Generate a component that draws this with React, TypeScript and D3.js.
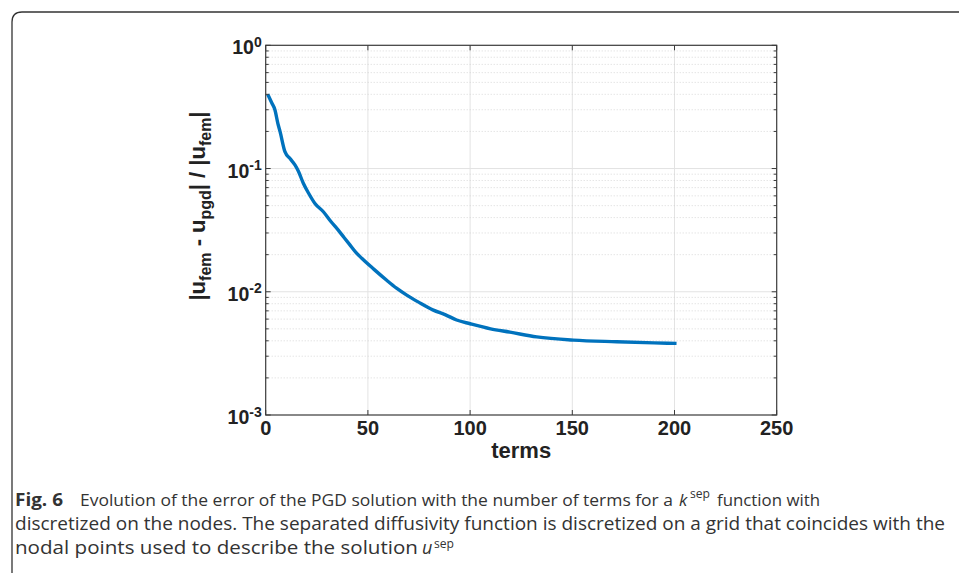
import React from "react";
import * as d3 from "d3";

const terms = [1, 3, 4.5, 6, 7, 9.4, 12, 14.3, 16, 18.4, 21, 24.1, 28.2, 32, 35.5, 38, 41.2, 44, 47, 53, 59.2, 64, 69, 75, 82, 88, 93.4, 100, 110, 119.5, 132.6, 150.5, 171.7, 190, 201];
const errors = [0.40, 0.34, 0.30, 0.23, 0.20, 0.137, 0.12, 0.107, 0.095, 0.076, 0.063, 0.052, 0.0446, 0.037, 0.0316, 0.028, 0.024, 0.021, 0.0187, 0.0152, 0.0124, 0.0107, 0.0094, 0.0082, 0.0071, 0.0065, 0.0059, 0.0055, 0.0050, 0.0047, 0.0043, 0.00405, 0.00393, 0.00385, 0.00381];
const xTicks = [0, 50, 100, 150, 200, 250];
const yTickExps = [0, -1, -2, -3];

const W = 959, H = 573;
const L = 265.7, R = 776.7, T = 45.3, B = 415;

export default function App() {
  const x = d3.scaleLinear().domain([0, 250]).range([L, R]);
  const y = d3.scaleLog().domain([1e-3, 1]).range([B, T]);
  const line = d3.line<number>().x((_, i) => x(terms[i])).y((d) => y(d)).curve(d3.curveMonotoneX);
  const minor: number[] = [];
  for (let e = -3; e < 0; e++) for (let m = 2; m <= 9; m++) minor.push(m * Math.pow(10, e));
  const axisColor = "#3a3a3a";
  const font = "'Liberation Sans', Arial, Helvetica, sans-serif";
  const capFont = "'Open Sans', 'Noto Sans', sans-serif";
  const sa = "spacingAndGlyphs";
  return (
    <svg width={W} height={H} style={{ position: "absolute", left: 0, top: 0, background: "#fff" }}>
      <path d={`M12,${H + 5} L12,22 Q12,12 22,12 L${W + 5},12`} fill="none" stroke="#333" strokeWidth={1.3} />
      {/* grid */}
      {xTicks.slice(1, -1).map((t) => (
        <line key={"gx" + t} x1={x(t)} x2={x(t)} y1={T} y2={B} stroke="#e3e3e3" strokeWidth={1} />
      ))}
      {yTickExps.slice(1, -1).map((e) => (
        <line key={"gy" + e} x1={L} x2={R} y1={y(Math.pow(10, e))} y2={y(Math.pow(10, e))} stroke="#e3e3e3" strokeWidth={1} />
      ))}
      {minor.map((v, i) => (
        <line key={"gm" + i} x1={L} x2={R} y1={y(v)} y2={y(v)} stroke="#cfcfcf" strokeWidth={0.8} strokeDasharray="1,2" />
      ))}
      {/* curve */}
      <path d={line(errors) || ""} fill="none" stroke="#0072BD" strokeWidth={3.4} strokeLinejoin="round" strokeLinecap="butt" />
      {/* box */}
      <rect x={L} y={T} width={R - L} height={B - T} fill="none" stroke={axisColor} strokeWidth={1.2} />
      {/* ticks */}
      {xTicks.map((t) => (
        <g key={"xt" + t}>
          <line x1={x(t)} x2={x(t)} y1={B} y2={B - 5} stroke={axisColor} />
          <line x1={x(t)} x2={x(t)} y1={T} y2={T + 5} stroke={axisColor} />
          <text x={x(t)} y={B + 20} textAnchor="middle" fontFamily={font} fontWeight="bold" fontSize={20} fill="#222">{t}</text>
        </g>
      ))}
      {yTickExps.map((e) => (
        <g key={"yt" + e}>
          <line x1={L} x2={L + 5} y1={y(Math.pow(10, e))} y2={y(Math.pow(10, e))} stroke={axisColor} />
          <line x1={R} x2={R - 5} y1={y(Math.pow(10, e))} y2={y(Math.pow(10, e))} stroke={axisColor} />
          <text x={L - 4} y={y(Math.pow(10, e)) + 9} textAnchor="end" fontFamily={font} fontWeight="bold" fontSize={19.5} fill="#222">
            10<tspan dy={-7.5} fontSize={14}>{e}</tspan>
          </text>
        </g>
      ))}
      {minor.map((v, i) => (
        <g key={"mt" + i}>
          <line x1={L} x2={L + 3} y1={y(v)} y2={y(v)} stroke={axisColor} />
          <line x1={R} x2={R - 3} y1={y(v)} y2={y(v)} stroke={axisColor} />
        </g>
      ))}
      {/* axis labels */}
      <text x={(L + R) / 2} y={458} textAnchor="middle" fontFamily={font} fontWeight="bold" fontSize={22} fill="#222">terms</text>
      <text transform={`translate(205,206) rotate(-90)`} textAnchor="middle" fontFamily={font} fontWeight="bold" fontSize={22} fill="#222">
        |u<tspan dy={6} fontSize={16}>fem</tspan><tspan dy={-6}> - u</tspan><tspan dy={6} fontSize={16}>pgd</tspan><tspan dy={-6}>| / |u</tspan><tspan dy={6} fontSize={16}>fem</tspan><tspan dy={-6}>|</tspan>
      </text>
      {/* caption */}
      <g fontFamily={capFont} fontSize={18} fill="#333">
        <text x={15} y={506} fontWeight="bold" textLength={48} lengthAdjust={sa}>Fig. 6</text>
        <text x={80} y={506} fontSize={16.8} textLength={593} lengthAdjust={sa}>Evolution of the error of the PGD solution with the number of terms for a</text>
        <text x={679} y={506} fontStyle="italic" fontSize={17}>k</text>
        <text x={690} y={498} fontSize={12.5} textLength={20} lengthAdjust={sa}>sep</text>
        <text x={717} y={506} fontSize={17} textLength={103} lengthAdjust={sa}>function with</text>
        <text x={15} y={530} textLength={930} lengthAdjust={sa}>discretized on the nodes. The separated diffusivity function is discretized on a grid that coincides with the</text>
        <text x={15} y={554} textLength={403} lengthAdjust={sa}>nodal points used to describe the solution</text>
        <text x={422} y={554} fontStyle="italic">u</text>
        <text x={434} y={548} fontSize={12.5} textLength={20} lengthAdjust={sa}>sep</text>
      </g>
    </svg>
  );
}
